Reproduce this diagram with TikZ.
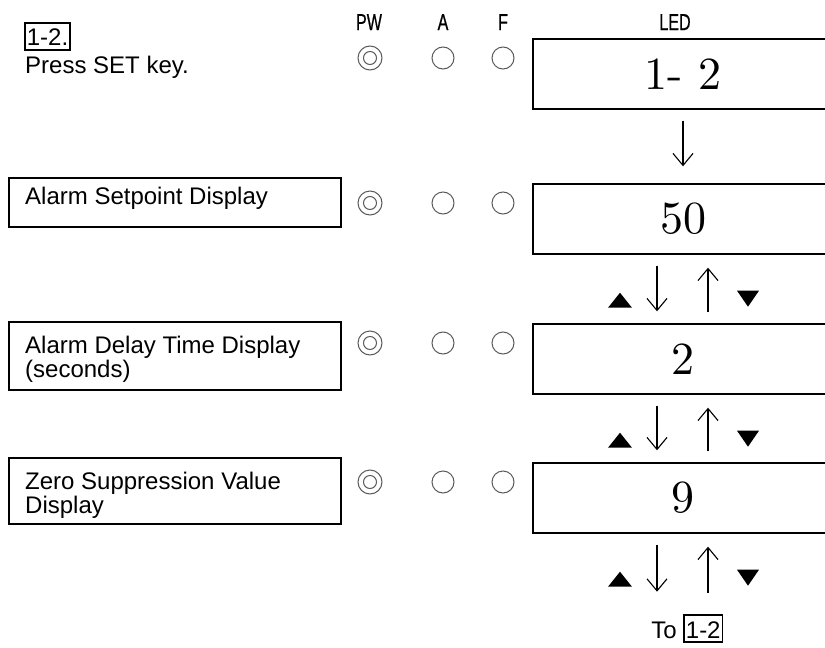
\documentclass[tikz,border=0pt]{standalone}
\usepackage{fontspec}
\newfontfamily\arial{Liberation Sans}
\newfontfamily\hdrfont{Liberation Sans}[FakeBold=0.8]
\newfontfamily\ledfont{lmroman10-regular.otf}
\usetikzlibrary{arrows.meta,calc}
\definecolor{ledgray}{HTML}{5A5A5A}
\begin{document}
\begin{tikzpicture}[x=1pt,y=-1pt,
  txt/.style={font=\arial\fontsize{24}{24}\selectfont, inner sep=0pt, text=black},
  hdr/.style={font=\hdrfont\fontsize{23}{24}\selectfont, inner sep=0pt, anchor=base},
  keybox/.style={draw=black, line width=1.8pt, font=\arial\fontsize{24}{24}\selectfont,
     inner xsep=2pt, inner ysep=0pt, text height=23pt, text depth=4pt},
  leftbox/.style={draw=black, line width=2.4pt, anchor=north west, inner sep=0pt, minimum width=332pt},
  ledbox/.style={draw=black, line width=1.4pt, minimum width=300pt, minimum height=70pt,
     inner sep=0pt, font=\ledfont\fontsize{46}{50}\selectfont},
  lamp/.style={draw=ledgray, line width=1pt, circle, inner sep=0pt, minimum size=22pt},
  arr/.style={line width=1.1pt, -{Straight Barb[length=12pt,width=20pt,line width=1.1pt]}},
  tri/.style={fill=black}
]
\useasboundingbox (0,0) rectangle (825,648);

% header
\node[keybox, anchor=north west] (k0) at (24,22) {1-2.};
\node[txt, anchor=base west] (press) at (25,73) {Press SET key.};
\node[hdr] (hPW) at (369,30) {\scalebox{0.7}[1]{PW}};
\node[hdr] (hA) at (443,30) {\scalebox{0.7}[1]{A}};
\node[hdr] (hF) at (503,30) {\scalebox{0.7}[1]{F}};
\node[hdr] (hLED) at (675,30) {\scalebox{0.7}[1]{LED}};

% LED boxes
\node[ledbox] (L1) at (683,74) {1-\,\,2};
\node[ledbox] (L2) at (683,219) {50};
\node[ledbox] (L3) at (683,359) {2};
\node[ledbox] (L4) at (683,498) {9};

% lamps
\foreach \r/\yy in {0/58,1/203,2/343,3/482}{
  \node[lamp, minimum size=24pt] (pw\r) at (370,\yy) {};
  \node[lamp, minimum size=13pt] (pwi\r) at (370,\yy) {};
  \node[lamp] (a\r) at (443,\yy) {};
  \node[lamp] (f\r) at (503,\yy) {};
}

% left boxes
\node[leftbox, minimum height=49pt] (b1) at (8,177) {};
\node[txt, anchor=base west] (t1) at (25,204) {Alarm Setpoint Display};
\node[leftbox, minimum height=68pt] (b2) at (8,321) {};
\node[txt, anchor=base west] (t2) at (25,353) {\parbox[t]{310pt}{Alarm Delay Time Display\\(seconds)}};
\node[leftbox, minimum height=66pt] (b3) at (8,457) {};
\node[txt, anchor=base west] (t3) at (25,489) {\parbox[t]{310pt}{Zero Suppression Value\\Display}};

% arrows
\draw[arr] ([yshift=-11pt]L1.south) -- ([yshift=17pt]L2.north);
\foreach \n/\m in {2/3,3/4}{
  \draw[arr] ([shift={(-26,11)}]L\n.south) -- ([shift={(-26,-12)}]L\m.north);
  \draw[arr] ([shift={(25,-11)}]L\m.north) -- ([shift={(25,13)}]L\n.south);
}
\node[txt, anchor=base east] (to) at (677,638) {To};
\node[keybox, anchor=base west] (tob) at (683,638) {1-2};
\coordinate (d4) at ($(L4.south)+(-26,58)$);
\coordinate (u4) at ($(L4.south)+(25,59)$);
\draw[arr] ([shift={(-26,11)}]L4.south) -- (d4);
\draw[arr] (u4) -- ([shift={(25,13)}]L4.south);

% triangles
\foreach \n in {2,3,4}{
  \fill[tri] ($(L\n.south)+(-75,53)$) -- ($(L\n.south)+(-51,53)$) -- ($(L\n.south)+(-63,38)$) -- cycle;
  \fill[tri] ($(L\n.south)+(54,36)$) -- ($(L\n.south)+(76,36)$) -- ($(L\n.south)+(65,52)$) -- cycle;
}
\end{tikzpicture}
\end{document}
